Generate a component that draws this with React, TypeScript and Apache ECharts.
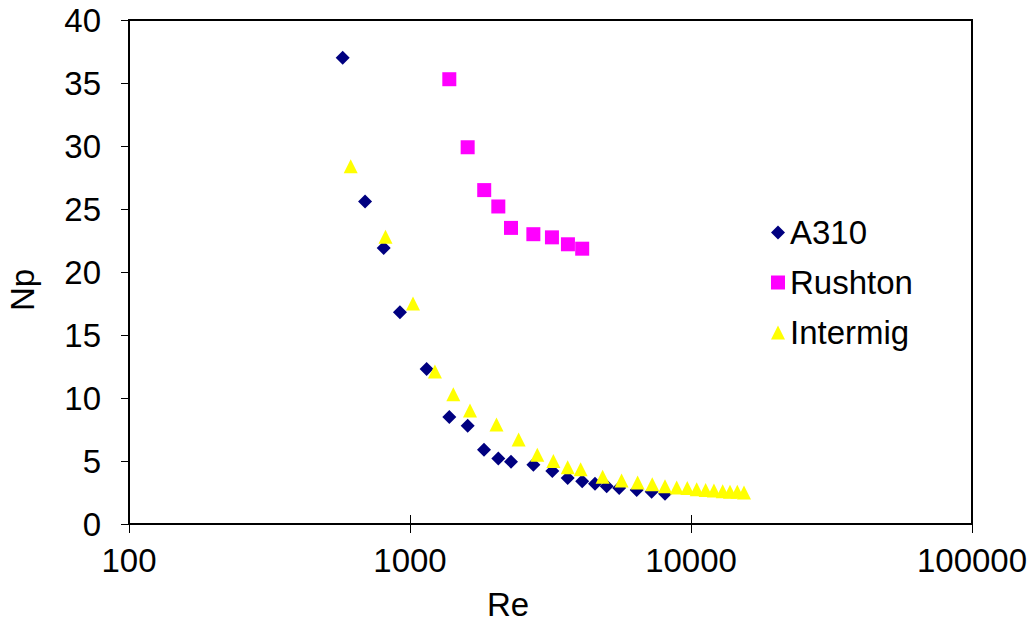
import React, { useEffect, useRef } from "react";
import * as echarts from "echarts";

const a310Re = [576, 692, 806, 921, 1146, 1380, 1604, 1834, 2062, 2288, 2748, 3209, 3640, 4100, 4553, 5012, 5553, 6409, 7244, 8080];
const a310Np = [37.0, 25.6, 21.9, 16.8, 12.3, 8.5, 7.8, 5.9, 5.2, 4.95, 4.7, 4.2, 3.65, 3.4, 3.2, 3.0, 2.85, 2.7, 2.55, 2.4];

const rushtonRe = [1380, 1604, 1837, 2062, 2288, 2748, 3200, 3648, 4100];
const rushtonNp = [35.3, 29.9, 26.5, 25.2, 23.5, 23.0, 22.75, 22.2, 21.85];

const intermigRe = [615, 818, 1025, 1227, 1426, 1635, 2032, 2435, 2839, 3237, 3640, 4048, 4848, 5662, 6457, 7280, 8080, 8892, 9700, 10475, 11275, 12070, 12967, 13765, 14614, 15440];
const intermigNp = [28.4, 22.8, 17.5, 12.1, 10.3, 9.0, 7.9, 6.7, 5.5, 5.0, 4.5, 4.35, 3.75, 3.45, 3.3, 3.15, 3.0, 2.9, 2.85, 2.75, 2.7, 2.65, 2.6, 2.55, 2.55, 2.5];

const seriesNames = ["A310", "Rushton", "Intermig"];
const xTitle = "Re";
const yTitle = "Np";

const FONT = "'Liberation Sans', Arial, sans-serif";

const pairs = (xs: number[], ys: number[]) => xs.map((x, i) => [x, ys[i]]);

export default function App() {
  const ref = useRef<HTMLDivElement>(null);
  useEffect(() => {
    if (!ref.current) return;
    const chart = echarts.init(ref.current, null, { renderer: "svg" });
    const grid = { left: 129, right: 60, top: 20, bottom: 99 };
    chart.setOption({
      animation: false,
      backgroundColor: "#ffffff",
      textStyle: { fontFamily: FONT },
      grid: { ...grid, show: true, borderColor: "#000", borderWidth: 2, backgroundColor: "transparent" },
      xAxis: [
        {
          type: "log",
          logBase: 10,
          min: 100,
          max: 100000,
          position: "bottom",
          axisLine: { show: true, lineStyle: { color: "#000", width: 2 } },
          axisTick: { show: true, inside: false, length: 9, lineStyle: { color: "#000", width: 1 } },
          axisLabel: {
            color: "#000",
            fontSize: 33,
            fontFamily: FONT,
            margin: 20,
            formatter: (v: number) => String(Math.round(v)),
          },
          splitLine: { show: false },
          minorTick: { show: false },
        },
        {
          type: "log",
          logBase: 10,
          min: 100,
          max: 100000,
          position: "bottom",
          offset: 0,
          axisLine: { show: false },
          axisTick: { show: true, inside: true, length: 9, lineStyle: { color: "#000", width: 1 } },
          axisLabel: { show: false },
          splitLine: { show: false },
        },
      ],
      yAxis: {
        type: "value",
        min: 0,
        max: 40,
        interval: 5,
        axisLine: { show: true, lineStyle: { color: "#000", width: 2 } },
        axisTick: { show: true, inside: false, length: 8, lineStyle: { color: "#000", width: 1 } },
        axisLabel: { color: "#000", fontSize: 33, fontFamily: FONT, margin: 28 },
        splitLine: { show: false },
      },
      legend: {
        orient: "vertical",
        left: 766,
        top: 211,
        itemGap: 17,
        itemWidth: 14,
        itemHeight: 14,
        textStyle: { color: "#000", fontSize: 33, fontFamily: FONT },
        data: seriesNames,
      },
      graphic: [
        {
          type: "text",
          left: 487,
          top: 588,
          style: { text: xTitle, fontSize: 33, fontFamily: FONT, fill: "#000" },
        },
        {
          type: "text",
          x: 6,
          y: 290,
          rotation: Math.PI / 2,
          style: { text: yTitle, fontSize: 33, fontFamily: FONT, fill: "#000", align: "center", verticalAlign: "top" },
        },
      ],
      series: [
        {
          name: seriesNames[0],
          type: "scatter",
          symbol: "diamond",
          symbolSize: 14,
          itemStyle: { color: "#000080", opacity: 1 },
          data: pairs(a310Re, a310Np),
        },
        {
          name: seriesNames[1],
          type: "scatter",
          symbol: "rect",
          symbolSize: 14,
          itemStyle: { color: "#FF00FF", opacity: 1 },
          data: pairs(rushtonRe, rushtonNp),
        },
        {
          name: seriesNames[2],
          type: "scatter",
          symbol: "triangle",
          symbolSize: 14,
          itemStyle: { color: "#FFFF00", opacity: 1 },
          data: pairs(intermigRe, intermigNp),
        },
      ],
    });
    return () => chart.dispose();
  }, []);
  return <div ref={ref} style={{ width: 1032, height: 623, position: "absolute", left: 0, top: 0 }} />;
}
